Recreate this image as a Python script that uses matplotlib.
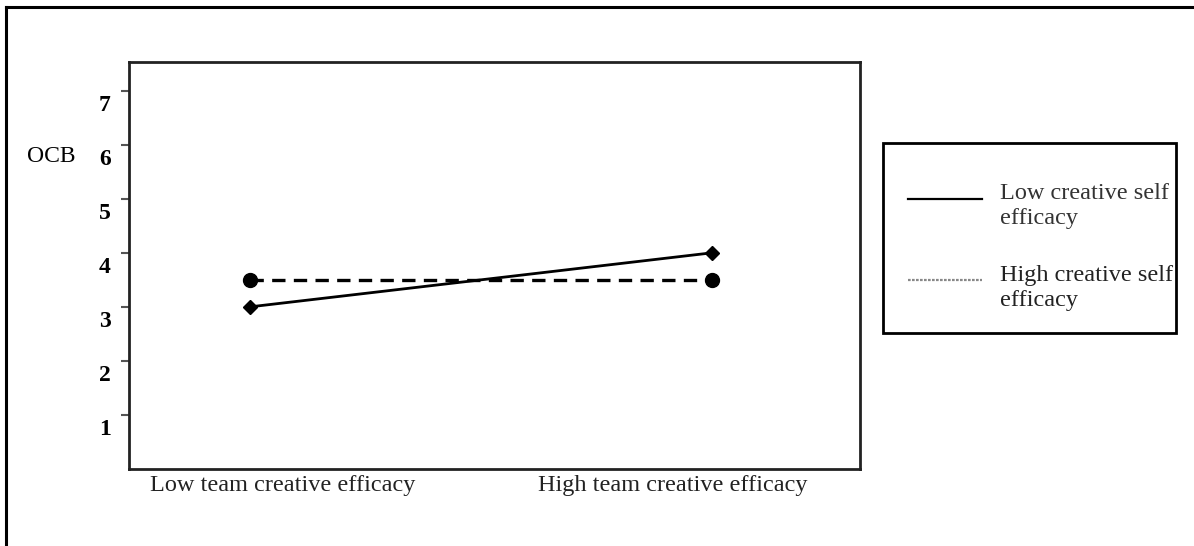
import matplotlib
matplotlib.use("Agg")
import matplotlib.pyplot as plt
from matplotlib.lines import Line2D
from matplotlib.patches import Rectangle
from matplotlib.transforms import ScaledTranslation

# data
conditions = ["Low team creative efficacy", "High team creative efficacy"]
low_cse = [3.0, 4.0]
high_cse = [3.5, 3.5]
series_labels = ["Low creative self\nefficacy", "High creative self\nefficacy"]
yticks = [1, 2, 3, 4, 5, 6, 7]

W, H = 1194, 546
fig = plt.figure(figsize=(W / 100, H / 100), dpi=100)
serif = "Liberation Serif"

# outer frame (top and left only)
fig.add_artist(Line2D([6 / W, 1.0], [1 - 7 / H, 1 - 7 / H], color="black", lw=2.2, transform=fig.transFigure))
fig.add_artist(Line2D([6 / W, 6 / W], [0, 1 - 7 / H], color="black", lw=2.2, transform=fig.transFigure))

L, R, T, B = 129, 860, 62, 469
ax = fig.add_axes([L / W, (H - B) / H, (R - L) / W, (B - T) / H])
x = [0, 1]
ax.plot(x, low_cse, color="black", lw=2, marker="D", ms=7, zorder=3)
ax.plot(x, high_cse, color="black", lw=2.4, ls=(0, (4, 2.5)), marker="o", ms=10, zorder=3)

ax.set_xlim(-0.262, 1.32)
ax.set_ylim(0, 7.53)
ax.set_yticks(yticks)
ax.set_yticklabels([str(v) for v in yticks], fontfamily=serif, fontweight="bold", fontsize=17)
ax.tick_params(axis="y", length=6, width=1.5, color="#555555", pad=7, direction="out")
shift = ScaledTranslation(0, -0.12, fig.dpi_scale_trans)
for lbl in ax.get_yticklabels():
    lbl.set_transform(lbl.get_transform() + shift)
ax.set_xticks([0.07, 0.915])
ax.set_xticklabels(conditions, fontfamily=serif, fontsize=17.5, color="#222222")
ax.tick_params(axis="x", length=0, pad=4)
for s in ax.spines.values():
    s.set_linewidth(2)
    s.set_color("#222222")

fig.text(51 / W, 1 - 156 / H, "OCB", fontfamily=serif, fontsize=17, ha="center", va="center")

# legend box
lx0, lx1, ly0, ly1 = 883, 1176, 143, 333
fig.add_artist(Rectangle((lx0 / W, 1 - ly1 / H), (lx1 - lx0) / W, (ly1 - ly0) / H,
                         fill=False, ec="black", lw=2, transform=fig.transFigure))
fig.add_artist(Line2D([908 / W, 982 / W], [1 - 199 / H, 1 - 199 / H], color="black", lw=1.6, transform=fig.transFigure))
fig.add_artist(Line2D([908 / W, 982 / W], [1 - 280 / H, 1 - 280 / H], color="#888888", lw=1.6,
                      ls=(0, (1.2, 0.6)), transform=fig.transFigure))
fig.text(1000 / W, 1 - 206 / H, series_labels[0], fontfamily=serif, fontsize=17.5, ha="left", va="center",
         linespacing=1.25, color="#333333")
fig.text(1000 / W, 1 - 288 / H, series_labels[1], fontfamily=serif, fontsize=17.5, ha="left", va="center",
         linespacing=1.25, color="#222222")

fig.savefig("out.png", dpi=100)
